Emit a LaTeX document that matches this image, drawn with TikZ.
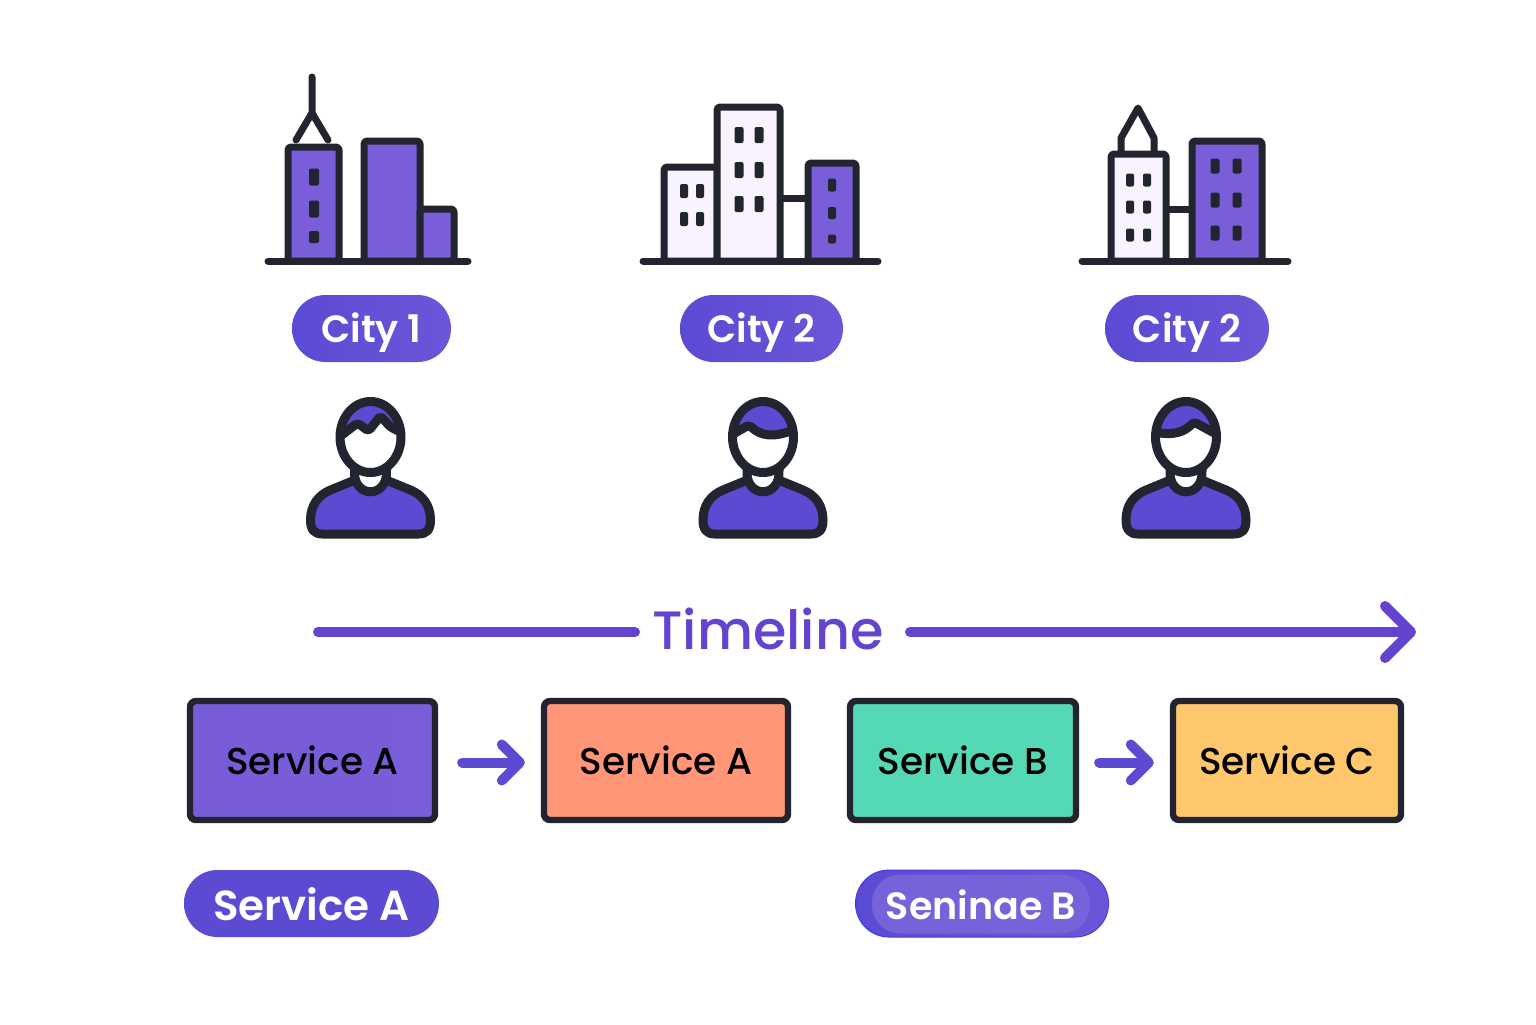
\documentclass[tikz,border=0pt]{standalone}
\usepackage{fontspec}
\setmainfont{Poppins}[BoldFont={Poppins SemiBold}]
\newfontfamily\mediumfont{Poppins Medium}
\usetikzlibrary{arrows.meta}
\definecolor{inkdark}{HTML}{22252F}
\definecolor{violetfill}{HTML}{7A5DD8}
\definecolor{bluefill}{HTML}{5D4AD2}
\definecolor{palefill}{HTML}{F8F3FD}
\definecolor{pillleft}{HTML}{5B4BD3}
\definecolor{pillright}{HTML}{6A56D7}
\definecolor{pillinner}{HTML}{7862D9}
\definecolor{linepurple}{HTML}{6444CF}
\definecolor{orangefill}{HTML}{FF9678}
\definecolor{tealfill}{HTML}{55D8B6}
\definecolor{yellowfill}{HTML}{FFC76C}
\tikzset{
  outline/.style={draw=inkdark, line width=3.5pt, rounded corners=1.5pt, line join=round},
  groundline/.style={draw=inkdark, line width=3.5pt, line cap=round},
  citypill/.style={rounded corners=16.7pt, minimum height=33.5pt, inner sep=0pt, left color=pillleft, right color=pillright,
    text=white, font=\fontsize{19}{19}\selectfont\bfseries, text height=14pt, text depth=0pt},
  servicebox/.style={draw=inkdark, line width=3.2pt, rounded corners=3pt, minimum height=59.5pt, inner sep=0pt,
    text=black, font=\fontsize{18.7}{19}\mediumfont, text height=13.5pt, text depth=0pt},
  flowarrow/.style={draw=bluefill, line width=5pt, line cap=round,
    -{Straight Barb[length=9pt, width=18pt, round]}},
  timeline/.style={draw=linepurple, line width=5pt, line cap=round},
}
\newcommand{\winbox}[4]{\fill[inkdark, rounded corners=1pt] (#1-#3/2,#2-#4/2) rectangle (#1+#3/2,#2+#4/2);}
\newcommand{\drawperson}[2]{%
  \begin{scope}[shift={(#1,0)}]
    \filldraw[draw=inkdark, line join=round, fill=bluefill, line width=4.5pt]
      (-18,481) -- (-40,490) .. controls (-52,495) and (-60,505) .. (-60,520)
      .. controls (-60,530) and (-56,534) .. (-48,534) -- (48,534)
      .. controls (56,534) and (60,530) .. (60,520) .. controls (60,505) and (52,495) .. (40,490) -- (18,481) -- cycle;
    \filldraw[draw=inkdark, fill=white, line width=4.5pt] (-16,470) .. controls (-18,499) and (18,499) .. (16,470) -- cycle;
    \fill[white] (0,437) ellipse (30.5 and 35.5);
    \begin{scope}
      \clip (0,437) ellipse (30.5 and 35.5);
      \fill[bluefill] #2 -- (40,390) -- (-40,390) -- cycle;
      \draw[draw=inkdark, line width=4.5pt, line join=round, rounded corners=1.5pt] #2;
    \end{scope}
    \draw[draw=inkdark, line width=4.5pt] (0,437) ellipse (30.5 and 35.5);
  \end{scope}}
\begin{document}
\begin{tikzpicture}[x=0.5pt, y=-0.5pt]
  \useasboundingbox (0,0) rectangle (1536,1024);
  % city 1
  \draw[groundline] (268,261) -- (468,261);
  \draw[groundline] (312,77) -- (312,113) -- (296,140);
  \draw[groundline] (312,113) -- (328,140);
  \filldraw[outline, fill=violetfill] (288,261) -- (288,147) -- (339,147) -- (339,261) -- cycle;
  \filldraw[outline, fill=violetfill] (364,261) -- (364,141) -- (420,141) -- (420,261) -- cycle;
  \filldraw[outline, fill=violetfill] (420,261) -- (420,209) -- (454,209) -- (454,261) -- cycle;
  \winbox{314}{177}{10}{17}
  \winbox{314}{209}{10}{17}
  \winbox{314}{237}{10}{12}
  % city 2
  \draw[groundline] (643,261) -- (878,261);
  \draw[groundline] (780,198) -- (808,198);
  \filldraw[outline, fill=palefill] (664,261) -- (664,167) -- (717,167) -- (717,261) -- cycle;
  \filldraw[outline, fill=palefill] (717,261) -- (717,107) -- (780,107) -- (780,261) -- cycle;
  \filldraw[outline, fill=violetfill] (808,261) -- (808,163) -- (856,163) -- (856,261) -- cycle;
  \winbox{684}{191}{8}{14}
  \winbox{700}{191}{8}{14}
  \winbox{684}{219}{8}{14}
  \winbox{700}{219}{8}{14}
  \winbox{739}{135}{9}{16}
  \winbox{759}{135}{9}{16}
  \winbox{739}{170}{9}{16}
  \winbox{759}{170}{9}{16}
  \winbox{739}{204}{9}{16}
  \winbox{759}{204}{9}{16}
  \winbox{832}{185}{8}{13}
  \winbox{832}{213}{8}{12}
  \winbox{832}{239}{8}{9}
  % city 3
  \draw[groundline] (1082,261) -- (1288,261);
  \draw[groundline] (1166,209) -- (1192,209);
  \draw[groundline, line join=round] (1121,151) -- (1121,138) -- (1138,108) -- (1154,138) -- (1154,151);
  \filldraw[outline, fill=palefill] (1111,261) -- (1111,154) -- (1166,154) -- (1166,261) -- cycle;
  \filldraw[outline, fill=violetfill] (1192,261) -- (1192,141) -- (1262,141) -- (1262,261) -- cycle;
  \winbox{1130}{180}{8}{13}
  \winbox{1147}{180}{8}{13}
  \winbox{1130}{207}{8}{13}
  \winbox{1147}{207}{8}{13}
  \winbox{1130}{235}{8}{13}
  \winbox{1147}{235}{8}{13}
  \winbox{1215}{166}{9}{15}
  \winbox{1237}{166}{9}{15}
  \winbox{1215}{200}{9}{15}
  \winbox{1237}{200}{9}{15}
  \winbox{1215}{233}{9}{15}
  \winbox{1237}{233}{9}{15}
  % labels of the cities
  \node[citypill, minimum width=79.5pt] (cityA) at (371.5,328.5) {City 1};
  \node[citypill, minimum width=81.5pt] (cityB) at (761.5,328.5) {City 2};
  \node[citypill, minimum width=82pt] (cityC) at (1187,328.5) {City 2};
  % people
  \drawperson{370.5}{(-30,436) -- (-13,423) -- (-2,431) -- (10,416) -- (20,427) -- (34,434)}
  \drawperson{763}{(-30,434) -- (-14,425) .. controls (-2,436) and (10,438) .. (30,430)}
  \drawperson{1186}{(-32,432) .. controls (-12,436) and (-2,432) .. (8,422) -- (32,435)}
  % timeline
  \node[text=linepurple, inner sep=0pt, font=\fontsize{27}{27}\mediumfont] (timelabel) at (768,629) {Timeline};
  \coordinate (timestart) at (318,632);
  \coordinate (timeend) at (1416,632);
  \coordinate (timegapA) at (635,632);
  \coordinate (timegapB) at (910,632);
  \draw[timeline] (timestart) -- (timegapA);
  \draw[timeline, -{Straight Barb[length=13pt, width=26pt, round]}] (timegapB) -- (timeend);
  % services
  \node[servicebox, minimum width=122.5pt, left color=violetfill!90!bluefill, right color=violetfill] (svcA) at (312.5,760.5) {Service A};
  \node[servicebox, minimum width=122pt, fill=orangefill] (svcB) at (666,760.5) {Service A};
  \node[servicebox, minimum width=113pt, fill=tealfill] (svcC) at (963,760.5) {Service B};
  \node[servicebox, minimum width=114pt, fill=yellowfill] (svcD) at (1287,760.5) {Service C};
  \draw[flowarrow, shorten <=12pt, shorten >=8pt] ([yshift=-1pt]svcA.east) -- ([yshift=-1pt]svcB.west);
  \draw[flowarrow, shorten <=10pt, shorten >=8pt] ([yshift=-1pt]svcC.east) -- ([yshift=-1pt]svcD.west);
  % labels of the services
  \node[citypill, minimum width=127.5pt, left color=pillleft, right color=pillleft, text height=16.5pt, font=\fontsize{21}{21}\selectfont\bfseries] (tagA) at (311.5,903.5) {Service A};
  \node[citypill, minimum width=126.5pt, draw=pillleft!80!blue, line width=0.5pt] (tagB) at (982,903.5) {};
  \node[rounded corners=14pt, fill=pillinner, minimum width=109pt, minimum height=29.5pt, inner sep=0pt,
    text=white, text height=15.5pt, text depth=0pt, font=\fontsize{19}{19}\selectfont\bfseries] (tagBtext) at (981,904) {Seninae B};
\end{tikzpicture}
\end{document}
